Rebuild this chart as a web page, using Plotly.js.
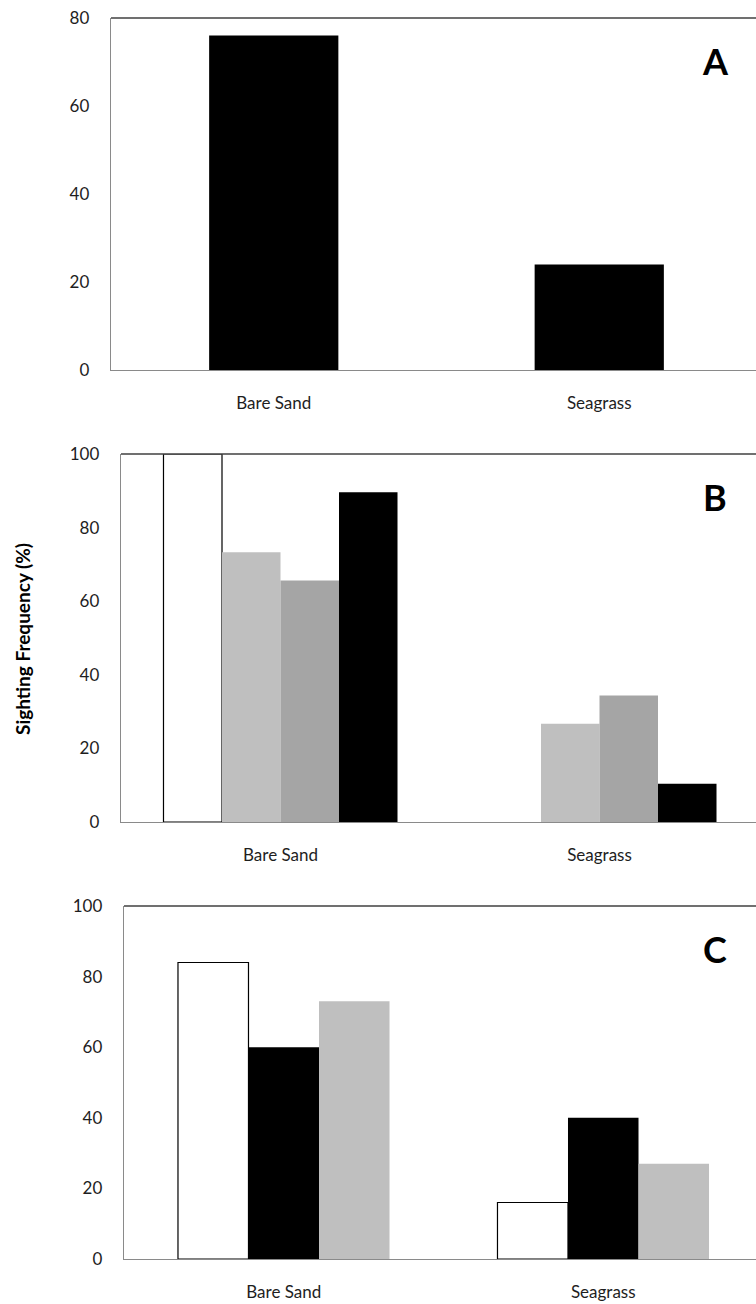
<!DOCTYPE html>
<html>
<head>
<meta charset="utf-8">
<script src="https://cdn.plot.ly/plotly-3.0.1.min.js"></script>
<style>html,body{margin:0;padding:0;background:#fff;}#chart{width:756px;height:1304px;}</style>
</head>
<body>
<div id="chart"></div>
<script>
// ---- data ----
const categories = ['Bare Sand', 'Seagrass'];
const panelA = [76, 24];
const panelB_white = [100, 0];
const panelB_light = [73.3, 26.7];
const panelB_mid = [65.6, 34.4];
const panelB_black = [89.6, 10.4];
const panelC_white = [84, 16];
const panelC_black = [60, 40];
const panelC_gray = [73, 27];
const yTicksA = [0, 20, 40, 60, 80];
const yTicksBC = [0, 20, 40, 60, 80, 100];
const panelLabels = ['A', 'B', 'C'];
const yTitle = 'Sighting Frequency (%)';

// ---- styling ----
const W = 756, H = 1304;
const FONT = 'Lato, "Open Sans", sans-serif';
const TXT = '#1e1e1e';
const AXC = '#8a8a8a';
const TOPC = '#404040';

function bar(y, xa, ya, color, lineW, width, offset) {
  // no outline on zero-height bars
  const lw = y.map(v => (v > 0 ? lineW : 0));
  return {
    type: 'bar', x: categories, y: y, xaxis: xa, yaxis: ya,
    width: width, offset: offset,
    marker: { color: color, line: { color: '#000', width: lw } },
    hoverinfo: 'x+y'
  };
}
const wA = 0.397;
const wB = 0.1834;
const wC = 0.2207;
const traces = [
  bar(panelA, 'x', 'y', '#000000', 0, wA, -wA / 2),
  bar(panelB_white, 'x2', 'y2', '#ffffff', 1.2, wB, -2 * wB),
  bar(panelB_light, 'x2', 'y2', '#bfbfbf', 0, wB, -wB),
  bar(panelB_mid, 'x2', 'y2', '#a5a5a5', 0, wB, 0),
  bar(panelB_black, 'x2', 'y2', '#000000', 0, wB, wB),
  bar(panelC_white, 'x3', 'y3', '#ffffff', 1.2, wC, -1.5 * wC),
  bar(panelC_black, 'x3', 'y3', '#000000', 0, wC, -0.5 * wC),
  bar(panelC_gray, 'x3', 'y3', '#bfbfbf', 0, wC, 0.5 * wC)
];

// pixel geometry of the three plot areas
const panels = [
  { left: 111, top: 18, bottom: 370, step: 325.5, max: 80, ticks: yTicksA },
  { left: 121, top: 454, bottom: 822, step: 319, max: 100, ticks: yTicksBC },
  { left: 124, top: 906, bottom: 1259, step: 319.5, max: 100, ticks: yTicksBC }
];

const layout = {
  width: W, height: H,
  margin: { l: 0, r: 0, t: 0, b: 0 },
  paper_bgcolor: '#fff', plot_bgcolor: '#fff',
  showlegend: false,
  barmode: 'overlay',
  font: { family: FONT, color: TXT, size: 17 },
  shapes: [], annotations: []
};

panels.forEach((p, i) => {
  const sx = i === 0 ? '' : String(i + 1);
  layout['xaxis' + sx] = {
    domain: [p.left / W, 1],
    anchor: 'y' + sx,
    type: 'category',
    range: [-0.5, -0.5 + (W - p.left) / p.step],
    showline: true, linecolor: AXC, linewidth: 1.3,
    showgrid: false, zeroline: false, ticks: '',
    ticklabelstandoff: 17,
    tickfont: { family: FONT, size: 17, color: TXT },
    fixedrange: true
  };
  layout['yaxis' + sx] = {
    domain: [1 - p.bottom / H, 1 - p.top / H],
    anchor: 'x' + sx,
    range: [0, p.max],
    tickvals: p.ticks,
    showline: true, linecolor: AXC, linewidth: 1.3,
    showgrid: false, zeroline: false, ticks: '',
    ticklabelstandoff: 17,
    tickfont: { family: FONT, size: 17, color: TXT },
    fixedrange: true
  };
  layout.shapes.push({
    type: 'line', xref: 'x' + sx + ' domain', yref: 'y' + sx + ' domain',
    x0: 0, x1: 1, y0: 1, y1: 1,
    line: { color: TOPC, width: 1.5 }
  });
  layout.annotations.push({
    text: '<b>' + panelLabels[i] + '</b>',
    xref: 'paper', yref: 'paper',
    x: 715 / W, y: 1 - (p.top + 43) / H,
    xanchor: 'center', yanchor: 'middle',
    showarrow: false,
    font: { family: FONT, size: 36, color: '#000' }
  });
});

layout.annotations.push({
  text: '<b>' + yTitle + '</b>',
  xref: 'paper', yref: 'paper',
  x: 22 / W, y: 1 - 639 / H,
  xanchor: 'center', yanchor: 'middle',
  textangle: -90, showarrow: false,
  font: { family: FONT, size: 19, color: '#000' }
});

Plotly.newPlot('chart', traces, layout, { displayModeBar: false, staticPlot: true });
</script>
</body>
</html>
